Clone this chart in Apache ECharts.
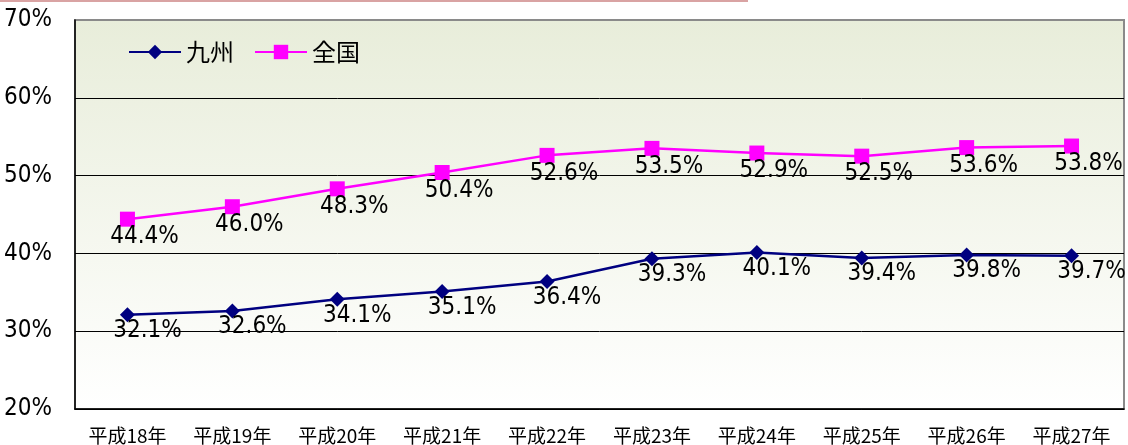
<!DOCTYPE html>
<html>
<head>
<meta charset="utf-8">
<script src="https://cdn.jsdelivr.net/npm/echarts@6/dist/echarts.min.js"></script>
<style>
  html, body { margin: 0; padding: 0; background: #fff; }
  #main { width: 1128px; height: 445px; }
</style>
</head>
<body>
<div id="main"></div>
<script>
var years = ['平成18年', '平成19年', '平成20年', '平成21年', '平成22年', '平成23年', '平成24年', '平成25年', '平成26年', '平成27年'];
var kyushu = [32.1, 32.6, 34.1, 35.1, 36.4, 39.3, 40.1, 39.4, 39.8, 39.7];
var zenkoku = [44.4, 46.0, 48.3, 50.4, 52.6, 53.5, 52.9, 52.5, 53.6, 53.8];

var numFont = '"DejaVu Sans Condensed", "Liberation Sans Narrow", Roboto, sans-serif';
var jpFont = '"Noto Sans CJK JP", sans-serif';

var chartDom = document.getElementById('main');
var myChart = echarts.init(chartDom);
var option;

option = {
    animation: false,
    graphic: [
        {
            type: 'rect',
            shape: { x: 0, y: 0, width: 748, height: 2 },
            style: { fill: '#d9a3a3' }
        }
    ],
    legend: {
        left: 128,
        top: 40,
        padding: 0,
        itemWidth: 52,
        itemHeight: 18,
        itemGap: 20,
        textStyle: { fontFamily: jpFont, fontSize: 24, color: '#000' },
        data: ['九州', '全国']
    },
    grid: {
        left: 75,
        right: 4,
        top: 20,
        bottom: 35,
        show: true,
        borderColor: '#8a8a8a',
        borderWidth: 2,
        backgroundColor: new echarts.graphic.LinearGradient(0, 0, 0, 1, [
            { offset: 0, color: '#e8edda' },
            { offset: 1, color: '#ffffff' }
        ])
    },
    xAxis: {
        type: 'category',
        boundaryGap: true,
        data: years,
        axisLine: { lineStyle: { color: '#000', width: 1.5 } },
        axisTick: { inside: true, length: 5, lineStyle: { color: '#000' } },
        axisLabel: { fontFamily: jpFont, fontSize: 19, color: '#000', margin: 17 }
    },
    yAxis: {
        type: 'value',
        min: 20,
        max: 70,
        interval: 10,
        axisLine: { show: true, lineStyle: { color: '#000', width: 1.5 } },
        axisTick: { show: false },
        axisLabel: { formatter: '{value}%', fontFamily: numFont, fontSize: 24, color: '#000', margin: 23 },
        splitLine: { lineStyle: { color: ['#000', '#000', '#000', '#000', '#000', '#8a8a8a'], width: 1 } }
    },
    series: [
        {
            name: '九州',
            type: 'line',
            data: kyushu,
            symbol: 'diamond',
            symbolSize: 15,
            itemStyle: { color: '#000080' },
            lineStyle: { color: '#000080', width: 2.5 },
            label: {
                show: true,
                position: 'inside',
                offset: [20, 16],
                formatter: function (p) { return p.value.toFixed(1) + '%'; },
                fontFamily: numFont,
                fontSize: 24,
                color: '#000'
            },
            z: 3
        },
        {
            name: '全国',
            type: 'line',
            data: zenkoku,
            symbol: 'rect',
            symbolSize: 15,
            itemStyle: { color: '#ff00ff' },
            lineStyle: { color: '#ff00ff', width: 2.5 },
            label: {
                show: true,
                position: 'inside',
                offset: [17, 18],
                formatter: function (p) { return p.value.toFixed(1) + '%'; },
                fontFamily: numFont,
                fontSize: 24,
                color: '#000'
            },
            z: 3
        }
    ]
};

option && myChart.setOption(option);
</script>
</body>
</html>
